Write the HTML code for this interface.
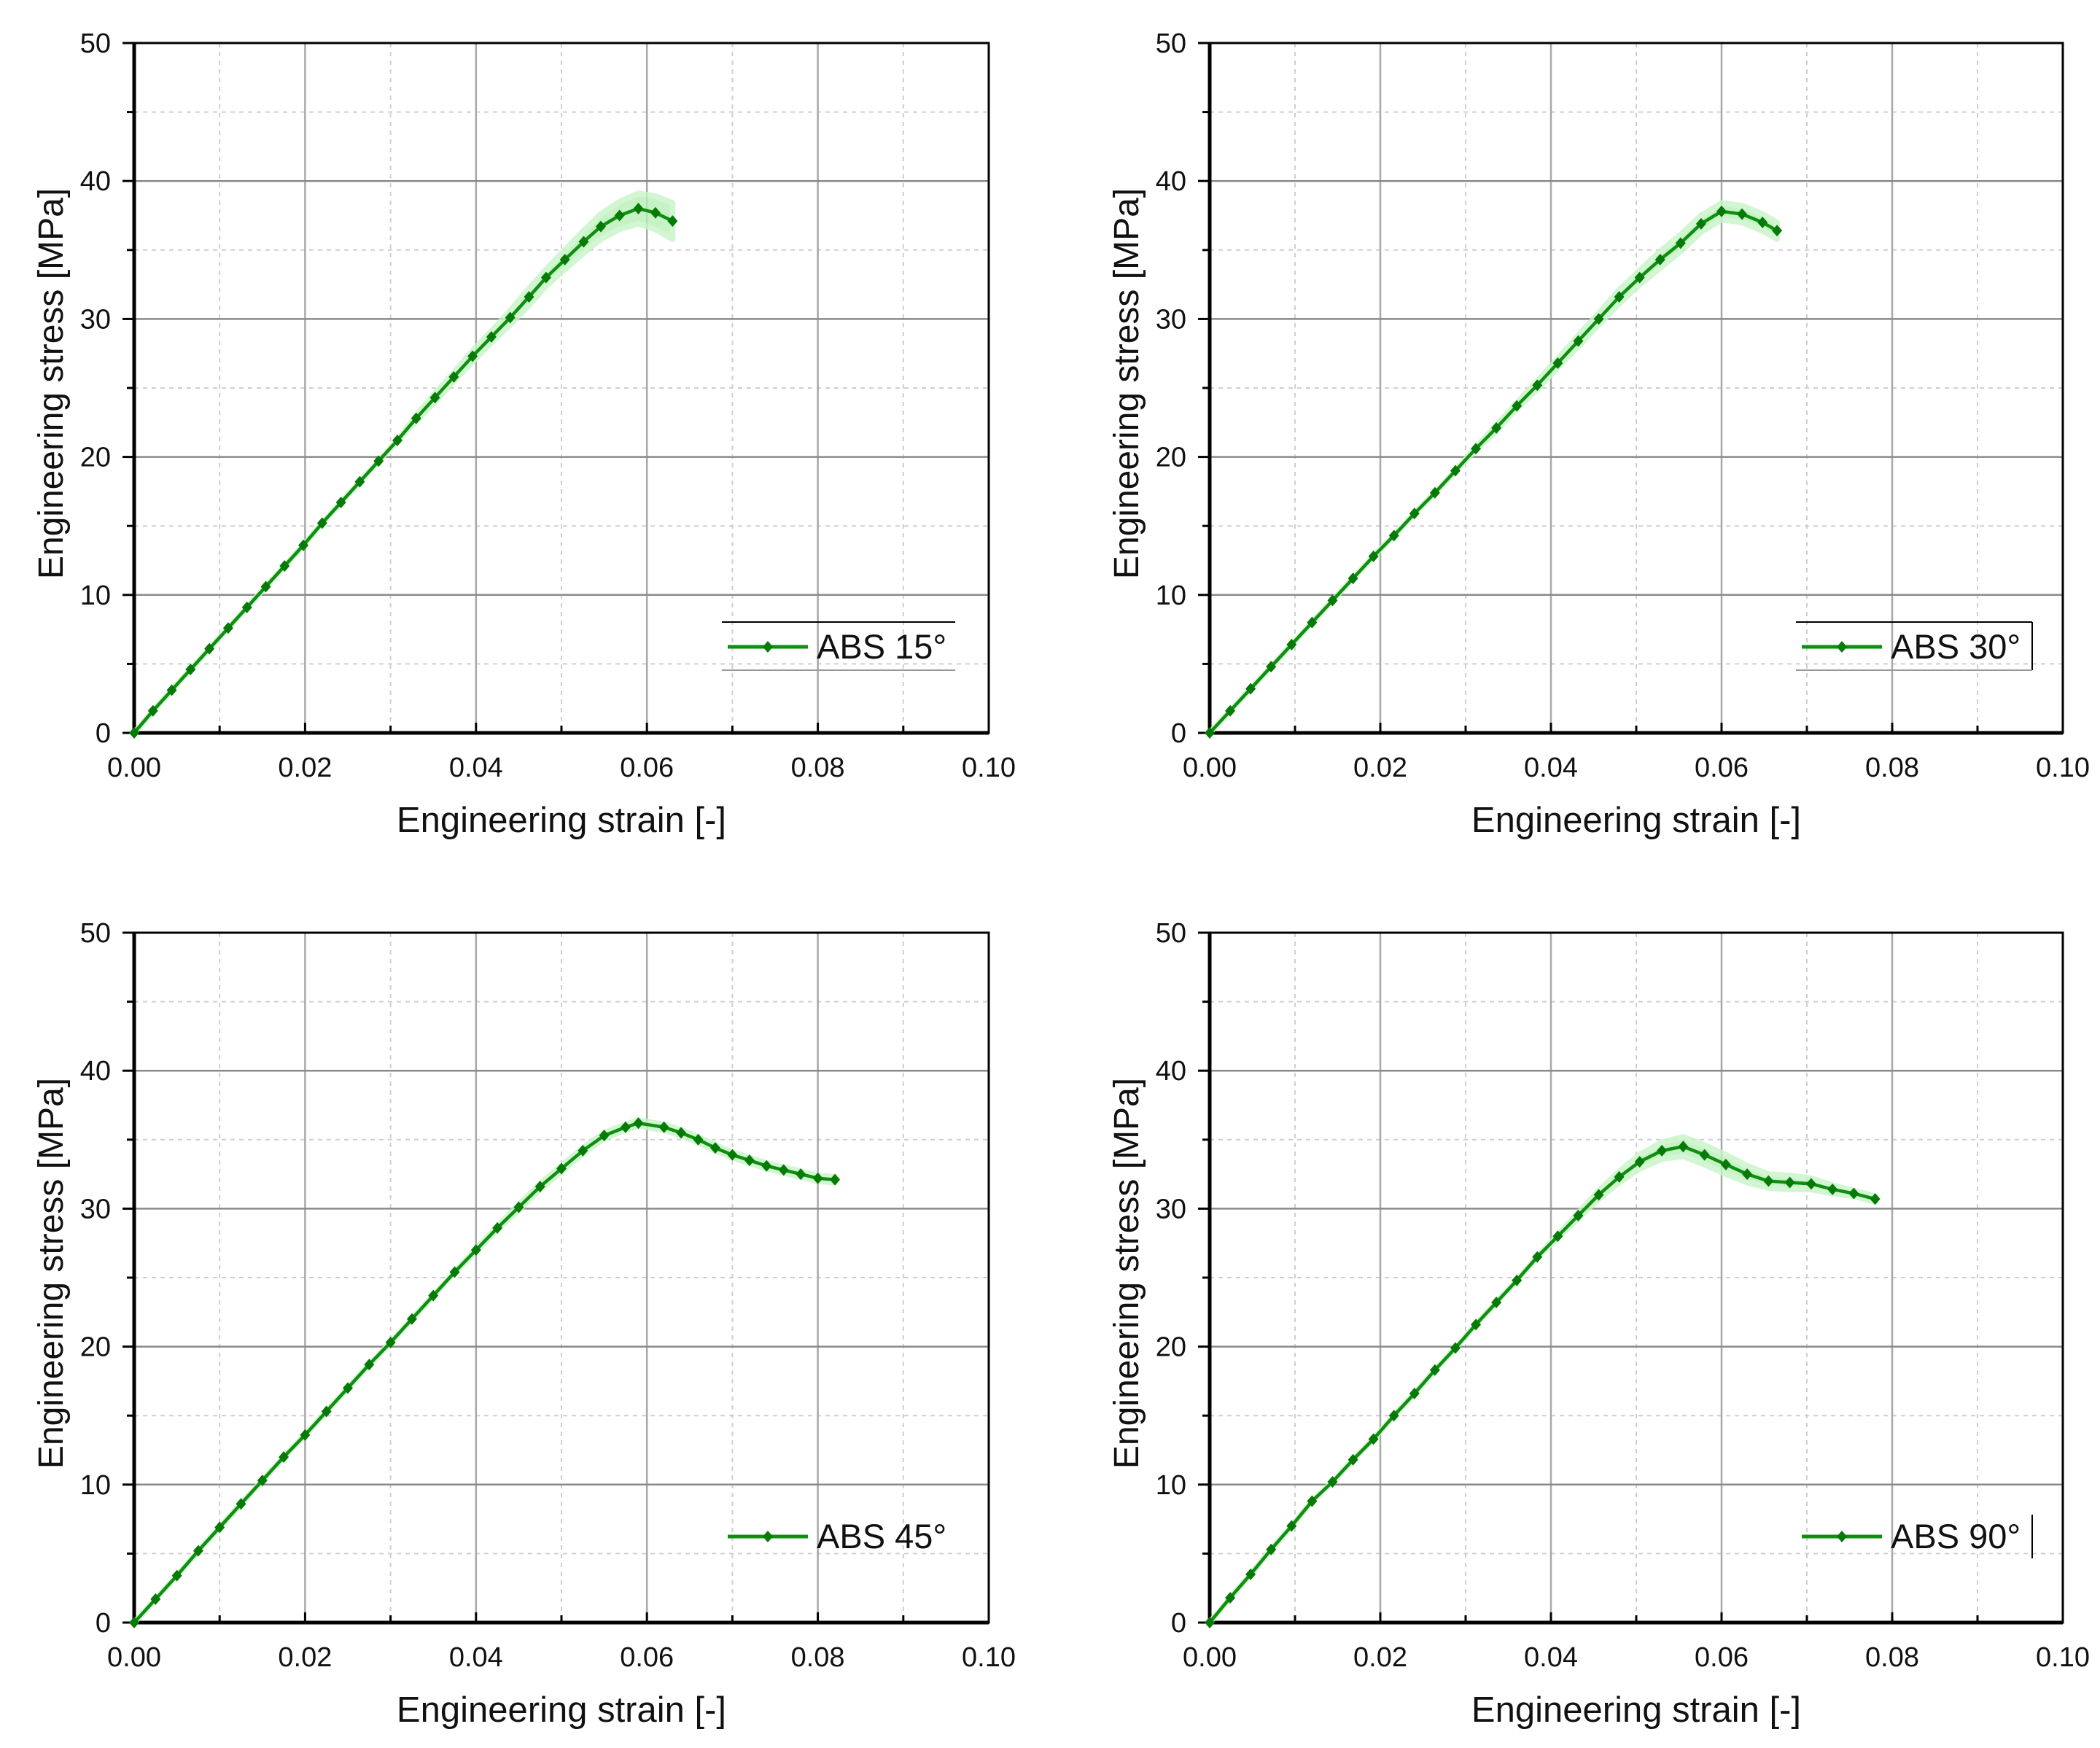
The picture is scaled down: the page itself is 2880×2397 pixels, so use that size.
<!DOCTYPE html>
<html><head><meta charset="utf-8"><style>
html,body{margin:0;padding:0;background:#fff}
svg{display:block}
text{font-family:"Liberation Sans",Arial,sans-serif;fill:#111}
</style></head><body>
<svg id="fig" width="2880" height="2397" viewBox="0 0 2880 2397" xmlns="http://www.w3.org/2000/svg"></svg>
<script>
const xTicks=[0,0.02,0.04,0.06,0.08,0.10];
const xTickLabels=["0.00","0.02","0.04","0.06","0.08","0.10"];
const yTicks=[0,10,20,30,40,50];
const yTickLabels=["0","10","20","30","40","50"];
const legendLabels=["ABS 15°","ABS 30°","ABS 45°","ABS 90°"];
const strain15=[0,.0022,.0044,.0066,.0088,.011,.0132,.0154,.0176,.0198,.022,.0242,.0264,.0286,.0308,.033,.0352,.0374,.0396,.0418,.044,.0462,.0482,.0504,.0526,.0546,.0568,.059,.061,.063];
const stress15=[0,1.6,3.1,4.6,6.1,7.6,9.1,10.6,12.1,13.6,15.2,16.7,18.2,19.7,21.2,22.8,24.3,25.8,27.3,28.7,30.1,31.6,33.0,34.3,35.6,36.7,37.5,38.0,37.7,37.1];
const spread15=[0,0,0,0,0,0,0,0,0,0,0,0,0,0,0,0.2,0.3,0.3,0.4,0.4,0.5,0.6,0.6,0.7,0.8,0.9,1.0,1.1,1.2,1.3];
const strain30=[0,.0024,.0048,.0072,.0096,.012,.0144,.0168,.0192,.0216,.024,.0264,.0288,.0312,.0336,.036,.0384,.0408,.0432,.0456,.048,.0504,.0528,.0552,.0576,.060,.0624,.0648,.0665];
const stress30=[0,1.6,3.2,4.8,6.4,8.0,9.6,11.2,12.8,14.3,15.9,17.4,19.0,20.6,22.1,23.7,25.2,26.8,28.4,30.0,31.6,33.0,34.3,35.5,36.9,37.8,37.6,37.0,36.4];
const spread30=[0,0,0,0,0,0,0,0,0,0,0,0,0,0.1,0.2,0.2,0.3,0.3,0.4,0.4,0.5,0.5,0.6,0.6,0.6,0.6,0.6,0.6,0.6];
const strain45=[0,.0025,.005,.0075,.010,.0125,.015,.0175,.020,.0225,.025,.0275,.030,.0325,.035,.0375,.040,.0425,.045,.0475,.050,.0525,.055,.0575,.059,.062,.064,.066,.068,.070,.072,.074,.076,.078,.080,.082];
const stress45=[0,1.7,3.4,5.2,6.9,8.6,10.3,12.0,13.6,15.3,17.0,18.7,20.3,22.0,23.7,25.4,27.0,28.6,30.1,31.6,32.9,34.2,35.3,35.9,36.2,35.9,35.5,35.0,34.4,33.9,33.5,33.1,32.8,32.5,32.2,32.1];
const spread45=[0,0,0,0,0,0,0,0,0,0,0,0,0,0,0,0,0.1,0.1,0.2,0.2,0.2,0.2,0.2,0.2,0.2,0.2,0.2,0.2,0.2,0.2,0.2,0.2,0.2,0.2,0.2,0.2];
const strain90=[0,.0024,.0048,.0072,.0096,.012,.0144,.0168,.0192,.0216,.024,.0264,.0288,.0312,.0336,.036,.0384,.0408,.0432,.0456,.048,.0504,.053,.0555,.058,.0605,.063,.0655,.068,.0705,.073,.0755,.078];
const stress90=[0,1.8,3.5,5.3,7.0,8.8,10.2,11.8,13.3,15.0,16.6,18.3,19.9,21.6,23.2,24.8,26.5,28.0,29.5,31.0,32.3,33.4,34.2,34.5,33.9,33.2,32.5,32.0,31.9,31.8,31.4,31.1,30.7];
const spread90=[0,0,0,0,0,0,0,0,0,0,0,0,0,0,0,0,0,0.1,0.2,0.3,0.4,0.5,0.6,0.7,0.7,0.7,0.6,0.5,0.5,0.4,0.3,0.2,0.2];

const NS="http://www.w3.org/2000/svg";
const svg=document.getElementById('fig');
function mk(tag,attrs,parent){const e=document.createElementNS(NS,tag);for(const k in attrs)e.setAttribute(k,attrs[k]);(parent||svg).appendChild(e);return e;}

const panels=[
 {L:184,R:1356,T:59,B:1005,xs:strain15,ys:stress15,sp:spread15,lab:legendLabels[0],leg:'lines',name:'panel-abs-15'},
 {L:1659,R:2829,T:59,B:1005,xs:strain30,ys:stress30,sp:spread30,lab:legendLabels[1],leg:'box',name:'panel-abs-30'},
 {L:184,R:1356,T:1279,B:2225,xs:strain45,ys:stress45,sp:spread45,lab:legendLabels[2],leg:'none',name:'panel-abs-45'},
 {L:1659,R:2829,T:1279,B:2225,xs:strain90,ys:stress90,sp:spread90,lab:legendLabels[3],leg:'right',name:'panel-abs-90'}
];

panels.forEach(p=>{
 const g=mk('g',{});
 
 
 const X=v=>p.L+(v/0.1)*(p.R-p.L);
 const Y=v=>p.B-(v/50)*(p.B-p.T);
 for(let i=0;i<5;i++){
  const xv=0.01+0.02*i;
  const l=mk('line',{x1:X(xv),x2:X(xv),y1:p.T,y2:p.B,stroke:'#cfcfcf','stroke-width':2,'stroke-dasharray':'6,6'},g);
  
  
  const yv=5+10*i;
  const l2=mk('line',{x1:p.L,x2:p.R,y1:Y(yv),y2:Y(yv),stroke:'#cfcfcf','stroke-width':2,'stroke-dasharray':'6,6'},g);
  
  
 }
 xTicks.forEach((v,i)=>{
  if(i>0&&i<xTicks.length-1){
   const l=mk('line',{x1:X(v),x2:X(v),y1:p.T,y2:p.B,stroke:'#a8a8a8','stroke-width':2.5},g);
   
   
  }
  const t=mk('line',{x1:X(v),x2:X(v),y1:p.B,y2:p.B-14,stroke:'#000','stroke-width':3},g);
  
  
  const tx=mk('text',{x:X(v),y:p.B+60,'font-size':38,'text-anchor':'middle'},g);
  tx.textContent=xTickLabels[i];
  
  
 });
 for(let i=0;i<5;i++){
  const xv=0.01+0.02*i;
  const t=mk('line',{x1:X(xv),x2:X(xv),y1:p.B,y2:p.B-10,stroke:'#000','stroke-width':3},g);
  
  
  const yv=5+10*i;
  const t2=mk('line',{x1:p.L,x2:p.L-10,y1:Y(yv),y2:Y(yv),stroke:'#000','stroke-width':3},g);
  
  
 }
 yTicks.forEach((v,i)=>{
  if(i>0&&i<yTicks.length-1){
   const l=mk('line',{x1:p.L,x2:p.R,y1:Y(v),y2:Y(v),stroke:'#8a8a8a','stroke-width':2.5},g);
   
   
  }
  const t=mk('line',{x1:p.L,x2:p.L-16,y1:Y(v),y2:Y(v),stroke:'#000','stroke-width':3},g);
  
  
  const tx=mk('text',{x:p.L-32,y:Y(v)+13,'font-size':38,'text-anchor':'end'},g);
  tx.textContent=yTickLabels[i];
  
  
 });
 const fr=mk('rect',{x:p.L,y:p.T,width:p.R-p.L,height:p.B-p.T,fill:'none',stroke:'#000','stroke-width':3},g);
 
 
 const ax=mk('line',{x1:p.L,x2:p.R,y1:p.B,y2:p.B,stroke:'#000','stroke-width':5},g);
 
 
 const ay=mk('line',{x1:p.L,x2:p.L,y1:p.T,y2:p.B,stroke:'#000','stroke-width':5},g);
 
 
 let up=[],dn=[];
 p.xs.forEach((x,i)=>{up.push(X(x)+','+Y(p.ys[i]+p.sp[i]));dn.unshift(X(x)+','+Y(p.ys[i]-p.sp[i]));});
 const band=mk('polygon',{points:up.concat(dn).join(' '),fill:'#b8f0b8',opacity:0.8,stroke:'#c8f4c8','stroke-width':8,'stroke-linejoin':'round'},g);
 
 
 const pts=p.xs.map((x,i)=>X(x)+','+Y(p.ys[i])).join(' ');
 const pl=mk('polyline',{points:pts,fill:'none',stroke:'#0f8f0f','stroke-width':4.5,'stroke-linejoin':'round'},g);
 
 
 p.xs.forEach((x,i)=>{
  const cx=X(x),cy=Y(p.ys[i]);
  const m=mk('polygon',{points:`${cx},${cy-8} ${cx+7},${cy} ${cx},${cy+8} ${cx-7},${cy}`,fill:'#067a06'},g);
  
  
 });
 const xt=mk('text',{x:(p.L+p.R)/2,y:p.B+136,'font-size':49,'text-anchor':'middle'},g);
 xt.textContent='Engineering strain [-]';
 
 
 const yc=(p.T+p.B)/2-6, yx=p.L-98;
 const yt=mk('text',{x:yx,y:yc,'font-size':48,'text-anchor':'middle',transform:`rotate(-90 ${yx} ${yc})`},g);
 yt.textContent='Engineering stress [MPa]';
 
 
 const lg=mk('g',{},g);
 
 
 const ly=p.B-118, bx0=p.R-366, bx1=p.R-46;
 if(p.leg==='lines'){
  mk('line',{x1:bx0,x2:bx1,y1:ly-34,y2:ly-34,stroke:'#000','stroke-width':2},lg);
  mk('line',{x1:bx0,x2:bx1,y1:ly+32,y2:ly+32,stroke:'#999','stroke-width':2},lg);
 } else if(p.leg==='box'){
  mk('line',{x1:bx0,x2:bx1+4,y1:ly-34,y2:ly-34,stroke:'#000','stroke-width':2},lg);
  mk('line',{x1:bx1+4,x2:bx1+4,y1:ly-34,y2:ly+32,stroke:'#000','stroke-width':2},lg);
  mk('line',{x1:bx0,x2:bx1+4,y1:ly+32,y2:ly+32,stroke:'#999','stroke-width':2},lg);
 } else if(p.leg==='right'){
  mk('line',{x1:bx1+4,x2:bx1+4,y1:ly-30,y2:ly+30,stroke:'#000','stroke-width':2},lg);
 }
 const sx0=p.R-358, sx1=p.R-248;
 const ll=mk('line',{x1:sx0,x2:sx1,y1:ly,y2:ly,stroke:'#0f8f0f','stroke-width':5},lg);
 
 
 const mx=(sx0+sx1)/2;
 mk('polygon',{points:`${mx},${ly-8} ${mx+7},${ly} ${mx},${ly+8} ${mx-7},${ly}`,fill:'#067a06'},lg);
 const lt=mk('text',{x:p.R-236,y:ly+16,'font-size':47},lg);
 lt.textContent=p.lab;
 
 
});
</script>
</body></html>
